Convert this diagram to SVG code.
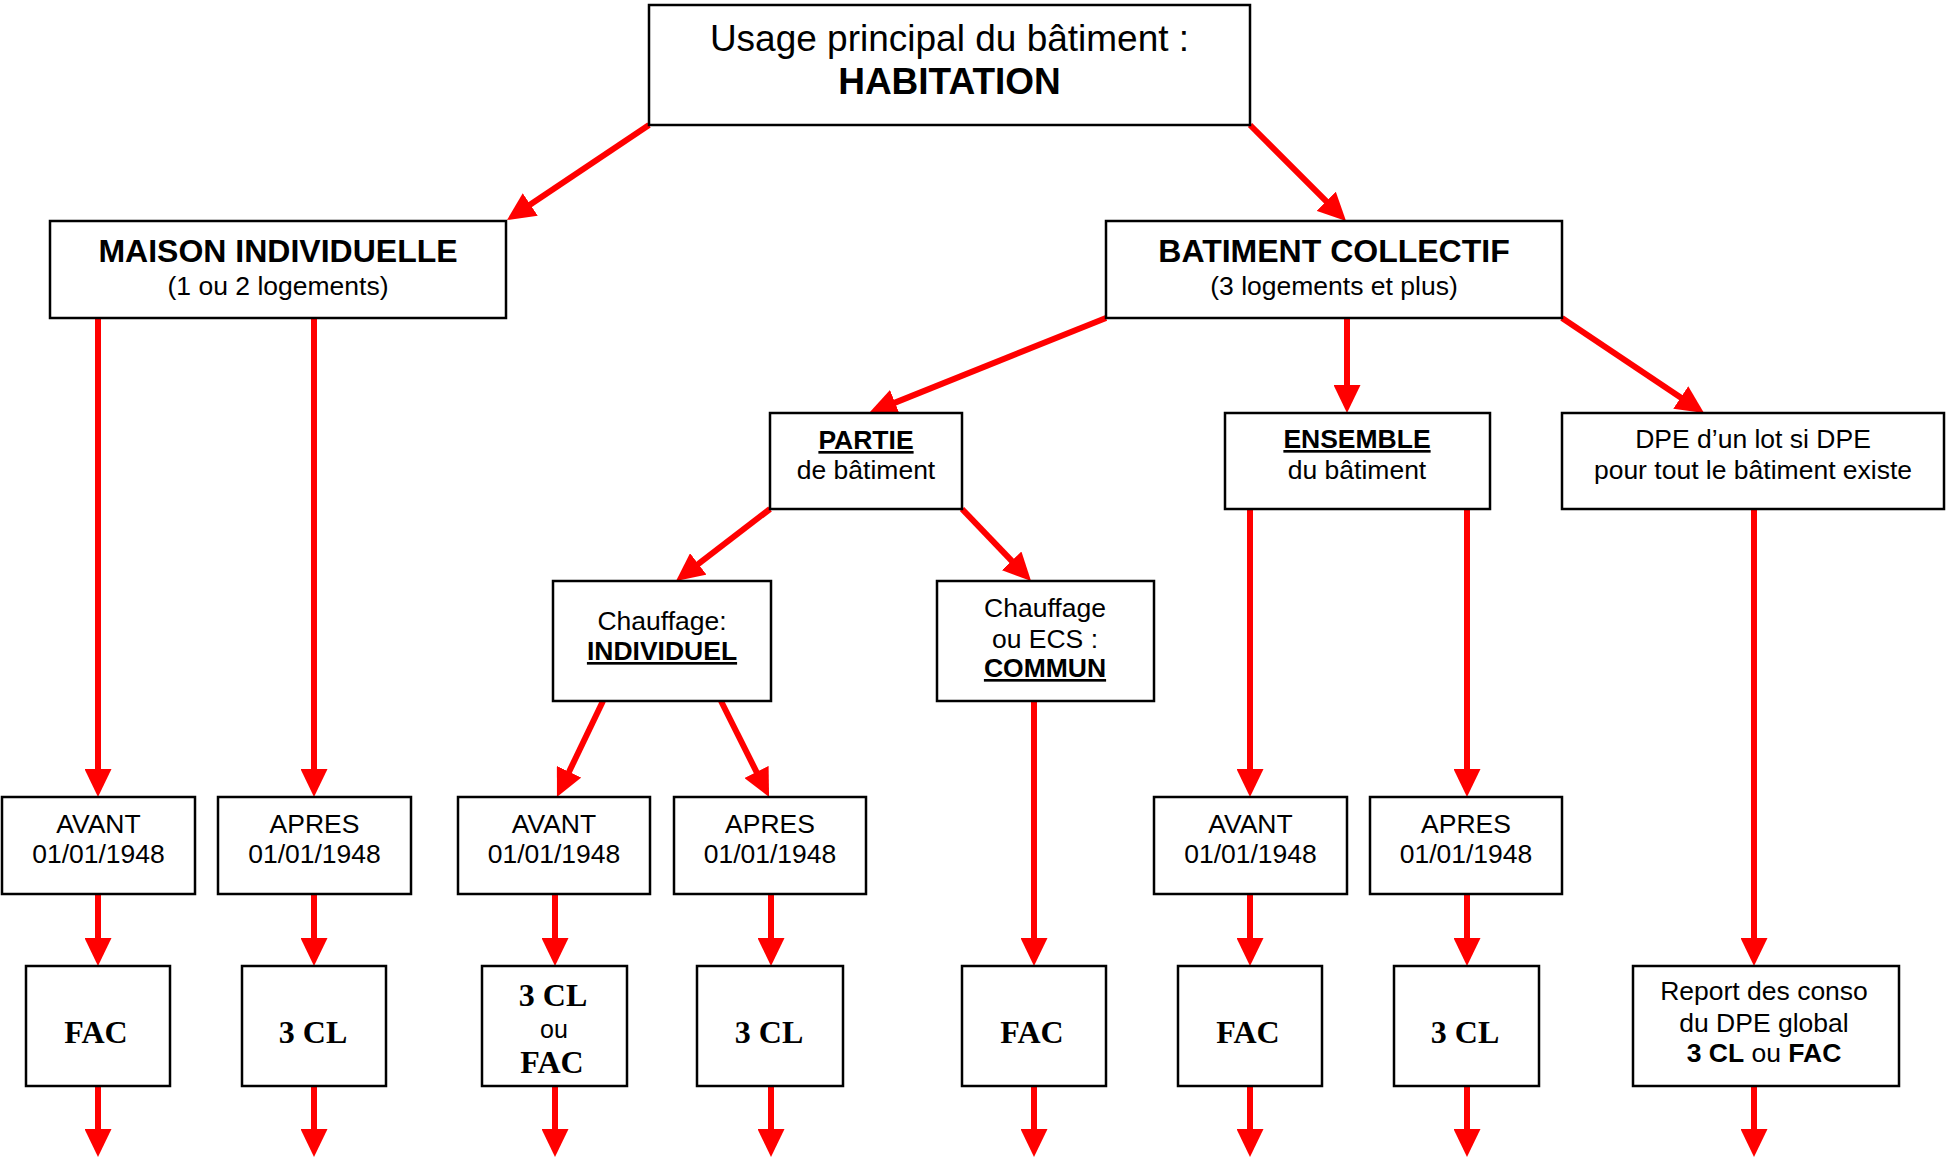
<svg xmlns="http://www.w3.org/2000/svg" width="1946" height="1159" viewBox="0 0 1946 1159">
<defs>
<style>
.box{fill:#fff;stroke:#000;stroke-width:2.5}
.t{font-family:"Liberation Sans",Arial,sans-serif;font-size:26.5px;fill:#000;text-anchor:middle}
.b{font-weight:bold}
.big{font-size:37px}
.h{font-size:32px;font-weight:bold}
.s{font-family:"Liberation Serif","Times New Roman",serif;font-size:32px;font-weight:bold;fill:#000;text-anchor:middle}
.u{text-decoration:underline}
.c{stroke:#ff0000;stroke-width:6;fill:none}
</style>
<marker id="ah" markerUnits="userSpaceOnUse" markerWidth="28" markerHeight="27" refX="8" refY="13.5" orient="auto">
<path d="M0,0 L28,13.5 L0,27 z" fill="#ff0000"/>
</marker>
</defs>
<rect width="1946" height="1159" fill="#fff"/>
<g id="connectors">
<line class="c" x1="649" y1="125" x2="523.6" y2="208.9" marker-end="url(#ah)"/>
<line class="c" x1="1250" y1="125" x2="1331.9" y2="206.9" marker-end="url(#ah)"/>
<line class="c" x1="98" y1="318" x2="98" y2="777" marker-end="url(#ah)"/>
<line class="c" x1="314" y1="318" x2="314" y2="777" marker-end="url(#ah)"/>
<line class="c" x1="1106" y1="318" x2="887.6" y2="405.6" marker-end="url(#ah)"/>
<line class="c" x1="1347" y1="318" x2="1347" y2="393" marker-end="url(#ah)"/>
<line class="c" x1="1562" y1="318" x2="1687.4" y2="401.9" marker-end="url(#ah)"/>
<line class="c" x1="770" y1="509" x2="691.9" y2="568.8" marker-end="url(#ah)"/>
<line class="c" x1="962" y1="509" x2="1017.2" y2="566.6" marker-end="url(#ah)"/>
<line class="c" x1="603" y1="701" x2="565.6" y2="779" marker-end="url(#ah)"/>
<line class="c" x1="721" y1="701" x2="760.1" y2="779.1" marker-end="url(#ah)"/>
<line class="c" x1="1034" y1="701" x2="1034" y2="946" marker-end="url(#ah)"/>
<line class="c" x1="1250" y1="509" x2="1250" y2="777" marker-end="url(#ah)"/>
<line class="c" x1="1467" y1="509" x2="1467" y2="777" marker-end="url(#ah)"/>
<line class="c" x1="1754" y1="509" x2="1754" y2="946" marker-end="url(#ah)"/>
<line class="c" x1="98" y1="894" x2="98" y2="946" marker-end="url(#ah)"/>
<line class="c" x1="314" y1="894" x2="314" y2="946" marker-end="url(#ah)"/>
<line class="c" x1="555" y1="894" x2="555" y2="946" marker-end="url(#ah)"/>
<line class="c" x1="771" y1="894" x2="771" y2="946" marker-end="url(#ah)"/>
<line class="c" x1="1250" y1="894" x2="1250" y2="946" marker-end="url(#ah)"/>
<line class="c" x1="1467" y1="894" x2="1467" y2="946" marker-end="url(#ah)"/>
<line class="c" x1="98" y1="1086" x2="98" y2="1137" marker-end="url(#ah)"/>
<line class="c" x1="314" y1="1086" x2="314" y2="1137" marker-end="url(#ah)"/>
<line class="c" x1="555" y1="1086" x2="555" y2="1137" marker-end="url(#ah)"/>
<line class="c" x1="771" y1="1086" x2="771" y2="1137" marker-end="url(#ah)"/>
<line class="c" x1="1034" y1="1086" x2="1034" y2="1137" marker-end="url(#ah)"/>
<line class="c" x1="1250" y1="1086" x2="1250" y2="1137" marker-end="url(#ah)"/>
<line class="c" x1="1467" y1="1086" x2="1467" y2="1137" marker-end="url(#ah)"/>
<line class="c" x1="1754" y1="1086" x2="1754" y2="1137" marker-end="url(#ah)"/>
</g>
<g id="habitation">
<rect class="box" x="649" y="5" width="601" height="120"/>
<text class="t big" x="949.5" y="51">Usage principal du bâtiment :</text>
<text class="t big b" x="949.5" y="94">HABITATION</text>
</g>
<g id="maison">
<rect class="box" x="50" y="221" width="456" height="97"/>
<text class="t h" x="278" y="262">MAISON INDIVIDUELLE</text>
<text class="t" x="278" y="295">(1 ou 2 logements)</text>
</g>
<g id="collectif">
<rect class="box" x="1106" y="221" width="456" height="97"/>
<text class="t h" x="1334" y="262">BATIMENT COLLECTIF</text>
<text class="t" x="1334" y="295">(3 logements et plus)</text>
</g>
<g id="partie">
<rect class="box" x="770" y="413" width="192" height="96"/>
<text class="t b u" x="866" y="449">PARTIE</text>
<text class="t" x="866" y="479">de bâtiment</text>
</g>
<g id="ensemble">
<rect class="box" x="1225" y="413" width="265" height="96"/>
<text class="t b u" x="1357" y="448">ENSEMBLE</text>
<text class="t" x="1357" y="479">du bâtiment</text>
</g>
<g id="dpe-lot">
<rect class="box" x="1562" y="413" width="382" height="96"/>
<text class="t" x="1753" y="448">DPE d’un lot si DPE</text>
<text class="t" x="1753" y="479">pour tout le bâtiment existe</text>
</g>
<g id="individuel">
<rect class="box" x="553" y="581" width="218" height="120"/>
<text class="t" x="662" y="630">Chauffage:</text>
<text class="t b u" x="662" y="660">INDIVIDUEL</text>
</g>
<g id="commun">
<rect class="box" x="937" y="581" width="217" height="120"/>
<text class="t" x="1045" y="617">Chauffage</text>
<text class="t" x="1045" y="648">ou ECS :</text>
<text class="t b u" x="1045" y="677">COMMUN</text>
</g>
<g id="avant1">
<rect class="box" x="2" y="797" width="193" height="97"/>
<text class="t" x="98.5" y="833">AVANT</text>
<text class="t" x="98.5" y="863">01/01/1948</text>
</g>
<g id="apres1">
<rect class="box" x="218" y="797" width="193" height="97"/>
<text class="t" x="314.5" y="833">APRES</text>
<text class="t" x="314.5" y="863">01/01/1948</text>
</g>
<g id="avant2">
<rect class="box" x="458" y="797" width="192" height="97"/>
<text class="t" x="554" y="833">AVANT</text>
<text class="t" x="554" y="863">01/01/1948</text>
</g>
<g id="apres2">
<rect class="box" x="674" y="797" width="192" height="97"/>
<text class="t" x="770" y="833">APRES</text>
<text class="t" x="770" y="863">01/01/1948</text>
</g>
<g id="avant3">
<rect class="box" x="1154" y="797" width="193" height="97"/>
<text class="t" x="1250.5" y="833">AVANT</text>
<text class="t" x="1250.5" y="863">01/01/1948</text>
</g>
<g id="apres3">
<rect class="box" x="1370" y="797" width="192" height="97"/>
<text class="t" x="1466" y="833">APRES</text>
<text class="t" x="1466" y="863">01/01/1948</text>
</g>
<g id="fac1">
<rect class="box" x="26" y="966" width="144" height="120"/>
<text class="s" x="96" y="1043">FAC</text>
</g>
<g id="cl1">
<rect class="box" x="242" y="966" width="144" height="120"/>
<text class="s" x="313" y="1043">3 CL</text>
</g>
<g id="cl-fac">
<rect class="box" x="482" y="966" width="145" height="120"/>
<text class="s" x="553" y="1006">3 CL</text>
<text class="t" x="554" y="1038" style="font-size:25px">ou</text>
<text class="s" x="552" y="1073">FAC</text>
</g>
<g id="cl2">
<rect class="box" x="697" y="966" width="146" height="120"/>
<text class="s" x="769" y="1043">3 CL</text>
</g>
<g id="fac2">
<rect class="box" x="962" y="966" width="144" height="120"/>
<text class="s" x="1032" y="1043">FAC</text>
</g>
<g id="fac3">
<rect class="box" x="1178" y="966" width="144" height="120"/>
<text class="s" x="1248" y="1043">FAC</text>
</g>
<g id="cl3">
<rect class="box" x="1394" y="966" width="145" height="120"/>
<text class="s" x="1465" y="1043">3 CL</text>
</g>
<g id="report">
<rect class="box" x="1633" y="966" width="266" height="120"/>
<text class="t" x="1764" y="1000">Report des conso</text>
<text class="t" x="1764" y="1032">du DPE global</text>
<text class="t" x="1764" y="1062"><tspan class="b">3 CL</tspan> ou <tspan class="b">FAC</tspan></text>
</g>
</svg>
